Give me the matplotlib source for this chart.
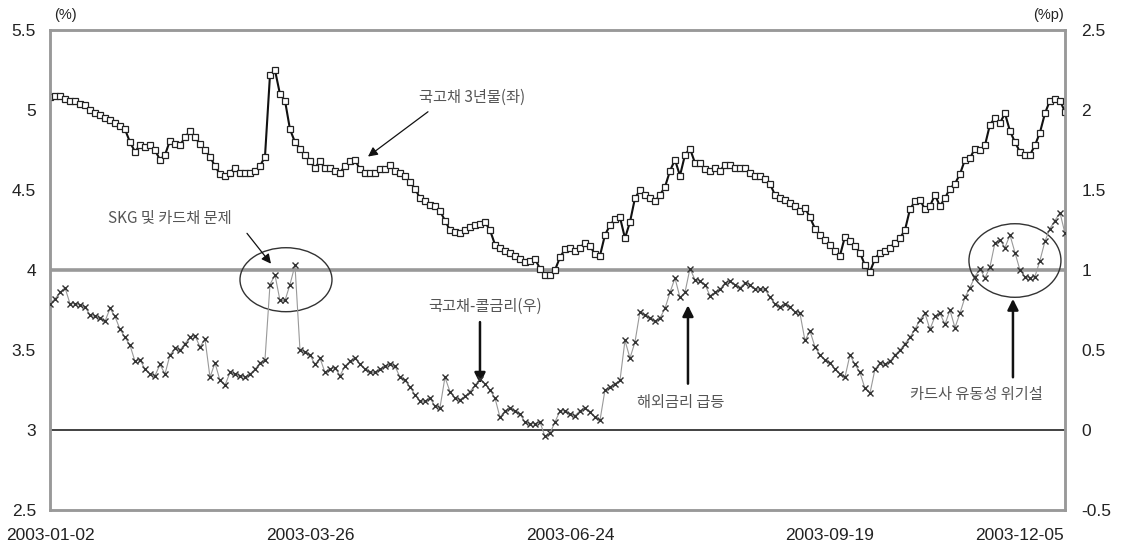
import matplotlib
matplotlib.use("Agg")
import matplotlib.pyplot as plt
from matplotlib.patches import Ellipse

plt.rcParams["font.family"] = ["Liberation Sans", "Noto Sans CJK KR", "DejaVu Sans"]

# 국고채 3년물 (%), left axis — one value per trading-day slot
ktb3y = [
    5.08, 5.09, 5.09, 5.07, 5.06, 5.06, 5.04, 5.03, 5.00, 4.98,
    4.97, 4.95, 4.94, 4.92, 4.90, 4.88, 4.80, 4.74, 4.78, 4.77,
    4.78, 4.75, 4.69, 4.72, 4.81, 4.79, 4.78, 4.83, 4.87, 4.83,
    4.79, 4.75, 4.71, 4.65, 4.60, 4.59, 4.61, 4.64, 4.61, 4.61,
    4.61, 4.62, 4.65, 4.71, 5.22, 5.25, 5.10, 5.06, 4.88, 4.80,
    4.76, 4.72, 4.68, 4.64, 4.68, 4.64, 4.64, 4.62, 4.61, 4.65,
    4.68, 4.69, 4.63, 4.61, 4.61, 4.61, 4.63, 4.63, 4.66, 4.62,
    4.61, 4.59, 4.55, 4.51, 4.45, 4.43, 4.41, 4.40, 4.37, 4.31,
    4.25, 4.24, 4.23, 4.25, 4.27, 4.28, 4.29, 4.30, 4.25, 4.16,
    4.14, 4.12, 4.11, 4.09, 4.07, 4.05, 4.06, 4.07, 4.01, 3.97,
    3.97, 4.00, 4.08, 4.13, 4.14, 4.12, 4.14, 4.17, 4.15, 4.10,
    4.09, 4.22, 4.28, 4.32, 4.33, 4.20, 4.30, 4.45, 4.50, 4.47,
    4.45, 4.43, 4.47, 4.52, 4.62, 4.69, 4.59, 4.72, 4.76, 4.67,
    4.67, 4.63, 4.62, 4.64, 4.62, 4.66, 4.66, 4.64, 4.64, 4.64,
    4.61, 4.59, 4.59, 4.57, 4.54, 4.47, 4.45, 4.44, 4.42, 4.40,
    4.37, 4.39, 4.33, 4.26, 4.22, 4.19, 4.16, 4.12, 4.09, 4.21,
    4.18, 4.15, 4.11, 4.03, 3.99, 4.07, 4.11, 4.12, 4.14, 4.17,
    4.20, 4.25, 4.38, 4.43, 4.44, 4.38, 4.40, 4.47, 4.40, 4.45,
    4.51, 4.54, 4.60, 4.69, 4.70, 4.76, 4.75, 4.78, 4.91, 4.95,
    4.92, 4.98, 4.87, 4.80, 4.74, 4.72, 4.72, 4.78, 4.86, 4.98,
    5.06, 5.07, 5.06, 4.99,
]

# 국고채-콜금리 (%p), right axis
spread = [
    0.79, 0.82, 0.86, 0.89, 0.79, 0.79, 0.78, 0.77, 0.72, 0.71,
    0.70, 0.68, 0.76, 0.71, 0.63, 0.58, 0.53, 0.43, 0.44, 0.38,
    0.35, 0.34, 0.41, 0.35, 0.47, 0.51, 0.50, 0.54, 0.58, 0.59,
    0.52, 0.57, 0.33, 0.42, 0.31, 0.28, 0.36, 0.35, 0.34, 0.33,
    0.35, 0.38, 0.42, 0.44, 0.91, 0.97, 0.81, 0.81, 0.91, 1.03,
    0.50, 0.49, 0.47, 0.41, 0.45, 0.36, 0.38, 0.39, 0.34, 0.40,
    0.43, 0.45, 0.41, 0.38, 0.36, 0.36, 0.38, 0.40, 0.41, 0.40,
    0.33, 0.31, 0.27, 0.22, 0.18, 0.18, 0.20, 0.15, 0.14, 0.33,
    0.24, 0.20, 0.19, 0.21, 0.24, 0.28, 0.32, 0.29, 0.25, 0.20,
    0.08, 0.12, 0.14, 0.12, 0.10, 0.05, 0.04, 0.04, 0.05, -0.04,
    -0.02, 0.05, 0.12, 0.12, 0.10, 0.09, 0.12, 0.14, 0.11, 0.08,
    0.06, 0.25, 0.27, 0.29, 0.31, 0.56, 0.45, 0.55, 0.74, 0.72,
    0.70, 0.68, 0.70, 0.76, 0.86, 0.95, 0.83, 0.86, 1.01, 0.94,
    0.93, 0.91, 0.84, 0.86, 0.88, 0.92, 0.93, 0.91, 0.89, 0.92,
    0.91, 0.88, 0.88, 0.88, 0.83, 0.79, 0.77, 0.79, 0.77, 0.74,
    0.73, 0.56, 0.62, 0.52, 0.47, 0.44, 0.42, 0.38, 0.35, 0.33,
    0.47, 0.41, 0.36, 0.26, 0.23, 0.38, 0.42, 0.41, 0.43, 0.47,
    0.50, 0.54, 0.58, 0.63, 0.69, 0.73, 0.63, 0.71, 0.73, 0.66,
    0.75, 0.64, 0.73, 0.83, 0.89, 0.96, 1.01, 0.95, 1.02, 1.17,
    1.19, 1.14, 1.22, 1.11, 1.00, 0.96, 0.95, 0.96, 1.06, 1.18,
    1.26, 1.31, 1.36, 1.23,
]

date_ticks = [0, 52, 104, 156, 194]
date_labels = ["2003-01-02", "2003-03-26", "2003-06-24", "2003-09-19", "2003-12-05"]
left_ticks = [2.5, 3, 3.5, 4, 4.5, 5, 5.5]
right_ticks = [-0.5, 0, 0.5, 1, 1.5, 2, 2.5]

KR = ["Noto Sans CJK KR", "DejaVu Sans"]
GRAY = "#999999"

fig = plt.figure(figsize=(11.21, 5.49), dpi=100)
ax = fig.add_axes([0.0446, 0.071, 0.9054, 0.874])
ax2 = ax.twinx()

idx = list(range(len(ktb3y)))

# reference lines: 4% (=1%p) gray, 3% (=0%p) dark
ax.axhline(4, color=GRAY, linewidth=2.6, zorder=1)
ax.axhline(3, color="#333333", linewidth=1.3, zorder=1)

ax.plot(idx, ktb3y, color="#111111", linewidth=1.5, marker="s", markersize=4.5,
        markerfacecolor="white", markeredgecolor="#222222", markeredgewidth=0.9,
        zorder=3)
ax2.plot(idx, spread, color="#999999", linewidth=0.8, marker="x", markersize=5,
         markeredgecolor="#333333", markeredgewidth=1.0, zorder=3)

ax.set_xlim(0, len(ktb3y) - 1)
ax.set_ylim(2.5, 5.5)
ax2.set_ylim(-0.5, 2.5)

ax.set_yticks(left_ticks)
ax.set_yticklabels([f"{t:g}" for t in left_ticks])
ax2.set_yticks(right_ticks)
ax2.set_yticklabels([f"{t:g}" for t in right_ticks])
ax.set_xticks(date_ticks)
ax.set_xticklabels(date_labels)

ax.tick_params(axis="y", length=0, pad=10, labelsize=12.5, labelcolor="#222222")
ax.tick_params(axis="x", length=0, pad=13, labelsize=12.5, labelcolor="#222222")
ax2.tick_params(axis="y", length=0, pad=12, labelsize=12.5, labelcolor="#222222")

for a in (ax, ax2):
    for sp in a.spines.values():
        sp.set_color(GRAY)
        sp.set_linewidth(1.8)

fig.text(0.058, 0.972, "(%)", fontsize=10.5, color="#222222", ha="center", va="center")
fig.text(0.935, 0.972, "(%p)", fontsize=10.5, color="#222222", ha="center", va="center")

# circled episodes
ax.add_patch(Ellipse((47.2, 3.94), 18.4, 0.40, fill=False, edgecolor="#333333",
                     linewidth=1.0, zorder=4))
ax.add_patch(Ellipse((193.0, 4.06), 18.4, 0.46, fill=False, edgecolor="#333333",
                     linewidth=1.0, zorder=4))

# annotations
txt = dict(fontsize=11, color="#555555", ha="center", va="center", family=KR)
thin = dict(arrowstyle="-|>", color="#111111", linewidth=0.9, mutation_scale=14,
            shrinkA=0, shrinkB=0)
thick = dict(arrowstyle="-|>", color="#111111", linewidth=1.8, mutation_scale=16,
             shrinkA=0, shrinkB=0)

ax.text(84.4, 5.08, "국고채 3년물(좌)", **txt)
ax.annotate("", xy=(63.6, 4.71), xytext=(75.6, 4.99), arrowprops=thin, zorder=5)

ax.text(24.0, 4.325, "SKG 및 카드채 문제", **txt)
ax.annotate("", xy=(44.2, 4.04), xytext=(39.4, 4.23), arrowprops=thin, zorder=5)

ax.text(87.0, 3.775, "국고채-콜금리(우)", **txt)
ax.annotate("", xy=(86.0, 3.29), xytext=(86.0, 3.675), arrowprops=thick, zorder=5)

ax.text(126.2, 3.175, "해외금리 급등", **txt)
ax.annotate("", xy=(127.6, 3.78), xytext=(127.6, 3.29), arrowprops=thick, zorder=5)

ax.text(185.2, 3.22, "카드사 유동성 위기설", **txt)
ax.annotate("", xy=(192.6, 3.82), xytext=(192.6, 3.33), arrowprops=thick, zorder=5)

fig.savefig("out.png", dpi=100)
plt.close(fig)
